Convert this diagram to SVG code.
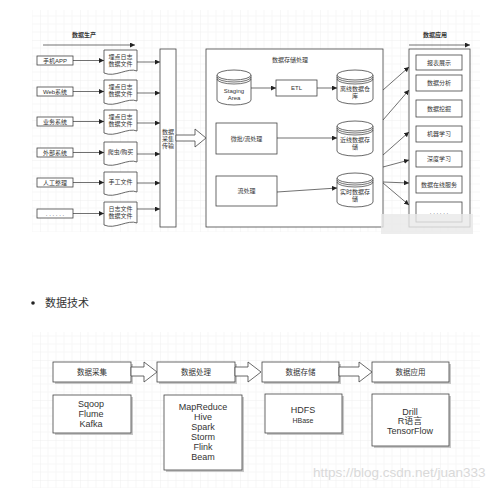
<svg xmlns="http://www.w3.org/2000/svg" width="499" height="488" viewBox="0 0 499 488">
<style>
.t{font-family:"Liberation Sans","Noto Sans CJK SC",sans-serif;fill:#333;text-anchor:middle;dominant-baseline:central}
.s6{font-size:6px}
.s7{font-size:7.5px}
.s9{font-size:9px}
.b{fill:#fff;stroke:#444;stroke-width:0.8}
.ln{fill:none;stroke:#333;stroke-width:0.7}
.sh{fill:#c8c8c8}
</style>
<defs>
<pattern id="grid" width="40" height="40" patternUnits="userSpaceOnUse">
<path d="M8 0V40M16 0V40M24 0V40M32 0V40M0 8H40M0 16H40M0 24H40M0 32H40" stroke="#f1f1f1" stroke-width="0.6" fill="none"/>
<path d="M0 0V40M0 0H40" stroke="#e6e6e6" stroke-width="0.7" fill="none"/>
</pattern>
<marker id="ah" viewBox="0 0 10 10" refX="10" refY="5" markerWidth="5" markerHeight="5" orient="auto" markerUnits="userSpaceOnUse">
<path d="M0 0L10 5L0 10Z" fill="#222"/>
</marker>
</defs>
<rect width="499" height="488" fill="#fff"/>
<rect x="32" y="10" width="448" height="222" fill="url(#grid)"/>
<rect x="32" y="332" width="448" height="156" fill="url(#grid)"/>

<!-- top section headers -->
<g id="hdr-produce"><text class="t s6" x="84" y="35" font-weight="bold">数据生产</text></g>
<g id="hdr-apply"><text class="t s6" x="435" y="35" font-weight="bold">数据应用</text></g>

<!-- sources -->
<g id="src1"><rect class="b" x="37" y="56" width="36" height="9"/><text class="t s6" x="55" y="60.5">手机APP</text></g>
<g id="src2"><rect class="b" x="37" y="87" width="36" height="9"/><text class="t s6" x="55" y="91.5">Web系统</text></g>
<g id="src3"><rect class="b" x="37" y="117" width="36" height="9"/><text class="t s6" x="55" y="121.5">业务系统</text></g>
<g id="src4"><rect class="b" x="37" y="148" width="36" height="9"/><text class="t s6" x="55" y="152.5">外部系统</text></g>
<g id="src5"><rect class="b" x="37" y="178" width="36" height="9"/><text class="t s6" x="55" y="182.5">人工整理</text></g>
<g id="src6"><rect class="b" x="37" y="209" width="36" height="9"/><text class="t s6" x="55" y="213.5">. . . . . .</text></g>

<!-- documents -->
<g id="doc1"><path class="b" d="M104 50H137V71C128 67 115 78 104 73Z"/><text class="t s6" x="120.5" y="57">埋点日志</text><text class="t s6" x="120.5" y="64">数据文件</text></g>
<g id="doc2"><path class="b" d="M104 80H137V101C128 97 115 108 104 103Z"/><text class="t s6" x="120.5" y="87">埋点日志</text><text class="t s6" x="120.5" y="94">数据文件</text></g>
<g id="doc3"><path class="b" d="M104 110H137V131C128 127 115 138 104 133Z"/><text class="t s6" x="120.5" y="117">埋点日志</text><text class="t s6" x="120.5" y="124">数据文件</text></g>
<g id="doc4"><path class="b" d="M104 142H137V162C128 158 115 169 104 164Z"/><text class="t s6" x="120.5" y="152">爬虫/购买</text></g>
<g id="doc5"><path class="b" d="M104 172H137V192C128 188 115 199 104 194Z"/><text class="t s6" x="120.5" y="182">手工文件</text></g>
<g id="doc6"><path class="b" d="M104 202H137V223C128 219 115 230 104 225Z"/><text class="t s6" x="120.5" y="209">日志文件</text><text class="t s6" x="120.5" y="216">数据文件</text></g>

<!-- collector -->
<g id="collector"><rect class="b" x="160" y="49" width="16" height="178"/>
<text class="t s6" x="168" y="132">数据</text><text class="t s6" x="168" y="139">采集</text><text class="t s6" x="168" y="146">传输</text></g>

<!-- storage container -->
<g id="storage"><rect class="b" x="206" y="49" width="177" height="178"/>
<text class="t s6" x="290" y="60">数据存储处理</text></g>

<g id="staging">
<path class="b" d="M217 75V100A17 5 0 0 0 251 100V75"/>
<ellipse class="b" cx="234" cy="75" rx="17" ry="5"/>
<path class="ln" d="M217 77A17 5 0 0 0 251 77M217 79A17 5 0 0 0 251 79"/>
<text class="t s6" x="234" y="91">Staging</text><text class="t s6" x="234" y="98">Area</text></g>

<g id="etl"><rect class="b" x="276" y="80" width="41" height="16"/><text class="t s6" x="296.5" y="88">ETL</text></g>

<g id="offline">
<path class="b" d="M337 75V99A18 5 0 0 0 373 99V75"/>
<ellipse class="b" cx="355" cy="75" rx="18" ry="5"/>
<path class="ln" d="M337 77A18 5 0 0 0 373 77M337 79A18 5 0 0 0 373 79"/>
<text class="t s6" x="355" y="89">离线数据仓</text><text class="t s6" x="355" y="96">库</text></g>

<g id="microbatch"><rect class="b" x="216" y="123" width="61" height="31"/><text class="t s6" x="246.5" y="139">微批/流处理</text></g>

<g id="nearline">
<path class="b" d="M337 126V151A18 5 0 0 0 373 151V126"/>
<ellipse class="b" cx="355" cy="126" rx="18" ry="5"/>
<path class="ln" d="M337 128A18 5 0 0 0 373 128M337 130A18 5 0 0 0 373 130"/>
<text class="t s6" x="355" y="140">近线数据存</text><text class="t s6" x="355" y="147">储</text></g>

<g id="stream"><rect class="b" x="216" y="176" width="61" height="30"/><text class="t s6" x="246.5" y="191">流处理</text></g>

<g id="realtime">
<path class="b" d="M337 178V202A18 5 0 0 0 373 202V178"/>
<ellipse class="b" cx="355" cy="178" rx="18" ry="5"/>
<path class="ln" d="M337 180A18 5 0 0 0 373 180M337 182A18 5 0 0 0 373 182"/>
<text class="t s6" x="355" y="192">实时数据存</text><text class="t s6" x="355" y="199">储</text></g>

<!-- application container -->
<g id="apps"><rect class="b" x="409" y="49" width="61" height="178"/></g>
<g id="app1"><rect class="b" x="416" y="55" width="46" height="15"/><text class="t s6" x="439" y="62.5">报表展示</text></g>
<g id="app2"><rect class="b" x="416" y="75" width="46" height="16"/><text class="t s6" x="439" y="83">数据分析</text></g>
<g id="app3"><rect class="b" x="416" y="100" width="46" height="17"/><text class="t s6" x="439" y="108.5">数据挖掘</text></g>
<g id="app4"><rect class="b" x="416" y="126" width="46" height="16"/><text class="t s6" x="439" y="134">机器学习</text></g>
<g id="app5"><rect class="b" x="416" y="151" width="46" height="16"/><text class="t s6" x="439" y="159">深度学习</text></g>
<g id="app6"><rect class="b" x="416" y="176" width="46" height="17"/><text class="t s6" x="439" y="184.5">数据在线服务</text></g>
<g id="app7"><rect class="b" x="416" y="202" width="46" height="20"/><text class="t s6" x="439" y="212">. . . . . .</text></g>

<!-- connectors -->
<g id="connectors" class="ln" marker-end="url(#ah)">
<path d="M43 45H135"/>
<path d="M409 45H470"/>
<path d="M73 60.5H104"/>
<path d="M73 91.5H104"/>
<path d="M73 121.5H104"/>
<path d="M73 152.5H104"/>
<path d="M73 182.5H104"/>
<path d="M73 213.5H104"/>
<path d="M137 62H160"/>
<path d="M137 93H160"/>
<path d="M137 123H160"/>
<path d="M137 154H160"/>
<path d="M137 183H160"/>
<path d="M137 209H160"/>
<path d="M251 88H276"/>
<path d="M317 88H337"/>
<path d="M277 138H337"/>
<path d="M277 192L337 188"/>
<path d="M383 90L409 67"/>
<path d="M383 120L409 90"/>
<path d="M383 155L409 132"/>
<path d="M383 167L409 160"/>
<path d="M383 182L409 183"/>
<path d="M383 183L409 205"/>
</g>
<g id="block-arrow-top"><path class="b" d="M176 135H195V129L206 138L195 147V141H176Z"/></g>

<!-- blurred patch -->
<rect x="381" y="214" width="92" height="20" fill="#e9e9e9" opacity="0.8"/>

<!-- bullet -->
<g id="bullet-title"><circle cx="33" cy="303" r="1.8" fill="#222"/><text class="t" x="45" y="303" style="text-anchor:start;font-size:11px">数据技术</text></g>

<!-- bottom diagram -->
<g id="h1"><rect class="sh" x="55" y="364" width="78" height="20"/><rect class="b" x="53" y="362" width="78" height="20"/><text class="t s7" x="92" y="372">数据采集</text></g>
<g id="h2"><rect class="sh" x="159" y="364" width="78" height="20"/><rect class="b" x="157" y="362" width="78" height="20"/><text class="t s7" x="196" y="372">数据处理</text></g>
<g id="h3"><rect class="sh" x="264" y="364" width="77" height="20"/><rect class="b" x="262" y="362" width="77" height="20"/><text class="t s7" x="300.5" y="372">数据存储</text></g>
<g id="h4"><rect class="sh" x="374" y="364" width="77" height="20"/><rect class="b" x="372" y="362" width="77" height="20"/><text class="t s7" x="410.5" y="372">数据应用</text></g>

<g id="bottom-arrows">
<path class="b" d="M131 367H144V362L157 372L144 382V376H131Z"/>
<path class="b" d="M235 367H248V362L261 372L248 382V376H235Z"/>
<path class="b" d="M339 367H359V362L372 372L359 382V376H339Z"/>
</g>

<g id="d1"><rect class="sh" x="55" y="397" width="78" height="38"/><rect class="b" x="53" y="395" width="78" height="38"/>
<text class="t s9" x="91" y="404">Sqoop</text><text class="t s9" x="91" y="414">Flume</text><text class="t s9" x="91" y="424">Kafka</text></g>
<g id="d2"><rect class="sh" x="166" y="397" width="78" height="75"/><rect class="b" x="164" y="395" width="78" height="75"/>
<text class="t s9" x="203" y="407">MapReduce</text><text class="t s9" x="203" y="417">Hive</text><text class="t s9" x="203" y="427">Spark</text><text class="t s9" x="203" y="437">Storm</text><text class="t s9" x="203" y="447">Flink</text><text class="t s9" x="203" y="457">Beam</text></g>
<g id="d3"><rect class="sh" x="267" y="396" width="77" height="39"/><rect class="b" x="265" y="394" width="77" height="39"/>
<text class="t s9" x="303" y="410">HDFS</text><text class="t" x="303" y="420" style="font-size:7px">HBase</text></g>
<g id="d4"><rect class="sh" x="374" y="396" width="77" height="52"/><rect class="b" x="372" y="394" width="77" height="52"/>
<text class="t s9" x="410" y="412">Drill</text><text class="t s9" x="410" y="421">R语言</text><text class="t s9" x="410" y="431">TensorFlow</text></g>

<text x="313" y="472" style="font-family:'Liberation Sans',sans-serif;font-size:13.5px;fill:#d9d9d9;dominant-baseline:central">https://blog.csdn.net/juan333</text>
</svg>
